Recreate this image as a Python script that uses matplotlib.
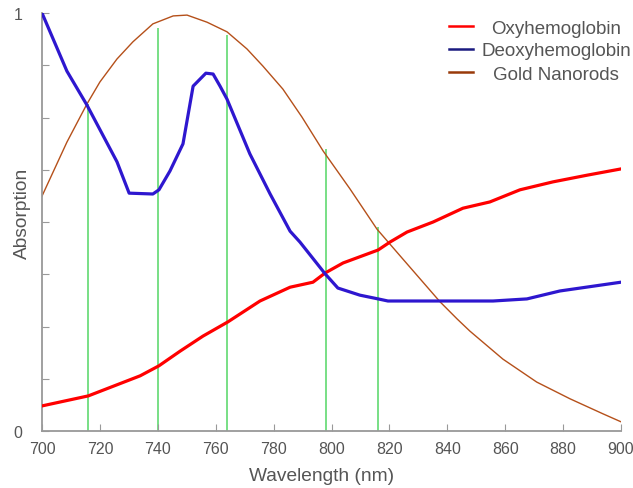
import matplotlib
matplotlib.use("Agg")
import matplotlib.pyplot as plt

plt.rcParams['font.family'] = ['Liberation Sans', 'DejaVu Sans']

deoxy_nm = [700, 708.6, 715.5, 725.9, 730.1, 738.3, 740.4, 744.2, 748.7, 752.2, 756.6,
            759.1, 761.5, 763.9, 771.8, 778.8, 785.7, 789.1, 797.8, 802.2, 809.8, 816.1,
            819.5, 855.8, 867.5, 878.9, 900]
deoxy = [1.0, 0.861, 0.780, 0.644, 0.569, 0.567, 0.577, 0.622, 0.687, 0.825, 0.856,
         0.854, 0.825, 0.794, 0.663, 0.567, 0.478, 0.452, 0.376, 0.342, 0.325, 0.316,
         0.311, 0.311, 0.316, 0.335, 0.356]

oxy_nm = [700, 716, 733.9, 740.4, 747.7, 755.6, 764.2, 775.3, 785.7, 793.6, 797.8, 804,
          816.1, 820.2, 826.1, 835.1, 845.4, 854.7, 865.1, 876.5, 888.3, 900]
oxy = [0.060, 0.084, 0.132, 0.156, 0.191, 0.227, 0.261, 0.311, 0.344, 0.356, 0.378, 0.402,
       0.433, 0.452, 0.476, 0.500, 0.533, 0.548, 0.577, 0.596, 0.612, 0.627]

gold_nm = [700, 708.6, 715.5, 720, 725.9, 731.4, 738.3, 745.3, 750.1, 757, 763.9, 770.8,
           776.3, 783.2, 789.8, 797.1, 806.4, 815.7, 823.7, 830.6, 837.5, 843.4, 847.8,
           859.2, 870.9, 882.4, 893.8, 900]
gold = [0.562, 0.691, 0.782, 0.835, 0.890, 0.931, 0.974, 0.993, 0.995, 0.978, 0.955, 0.914,
        0.873, 0.818, 0.751, 0.670, 0.579, 0.483, 0.419, 0.364, 0.309, 0.268, 0.239,
        0.172, 0.117, 0.077, 0.041, 0.022]

# green markers
mark_nm = [716, 740, 764, 798, 816]
mark_top = [0.782, 0.964, 0.947, 0.675, 0.488]

labels = ['Oxyhemoglobin', 'Deoxyhemoglobin', 'Gold Nanorods']
legend_colors = ['#ff0000', '#1a1a80', '#993a0a']

grey = '#555555'

fig = plt.figure(figsize=(6.33, 4.89), dpi=100)
ax = fig.add_axes([42/633, 57/489, 579/633, 418/489])

ax.vlines(mark_nm, 0, mark_top, color='#6ddc7c', lw=1.3, zorder=1)
ax.plot(gold_nm, gold, color='#b5501a', lw=1.0, zorder=2)
ax.plot(oxy_nm, oxy, color='#ff0000', lw=2.3, zorder=3, solid_joinstyle='round')
ax.plot(deoxy_nm, deoxy, color='#2e17cf', lw=2.3, zorder=3, solid_joinstyle='round')

ax.set_xlim(700, 900)
ax.set_ylim(0, 1)
ax.set_xticks(range(700, 901, 20))
ax.set_yticks([i / 8 for i in range(9)])
ax.set_yticklabels(['0', '', '', '', '', '', '', '', '1'])

for s in ['top', 'right']:
    ax.spines[s].set_visible(False)
for s in ['left', 'bottom']:
    ax.spines[s].set_color('#999999')
    ax.spines[s].set_linewidth(1.3)

ax.tick_params(axis='x', direction='in', length=5, color='#999999', labelcolor=grey,
               labelsize=11.5, pad=7)
ax.tick_params(axis='y', direction='in', length=5, color='#999999', labelcolor=grey,
               labelsize=11.5, pad=14)

ax.set_xlabel('Wavelength (nm)', fontsize=13.8, color=grey, va='center')
ax.set_ylabel('Absorption', fontsize=13.8, color=grey, va='center')
ax.xaxis.set_label_coords((322 - 42) / 579, (432 - 477) / 418)
ax.yaxis.set_label_coords((22 - 42) / 579, (432 - 213) / 418)

# legend drawn by hand so the text is centred like the original
for i, (lab, c) in enumerate(zip(labels, legend_colors)):
    ypix = 29 + 23 * i
    yy = (432 - ypix) / 418
    ax.plot([(449 - 42) / 579, (473 - 42) / 579], [yy + 2 / 418, yy + 2 / 418],
            color=c, lw=1.8, transform=ax.transAxes, clip_on=False)
    ax.text((556 - 42) / 579, yy, lab, transform=ax.transAxes, ha='center', va='center',
            fontsize=13.5, color=grey)

fig.savefig('out.png', dpi=100)
